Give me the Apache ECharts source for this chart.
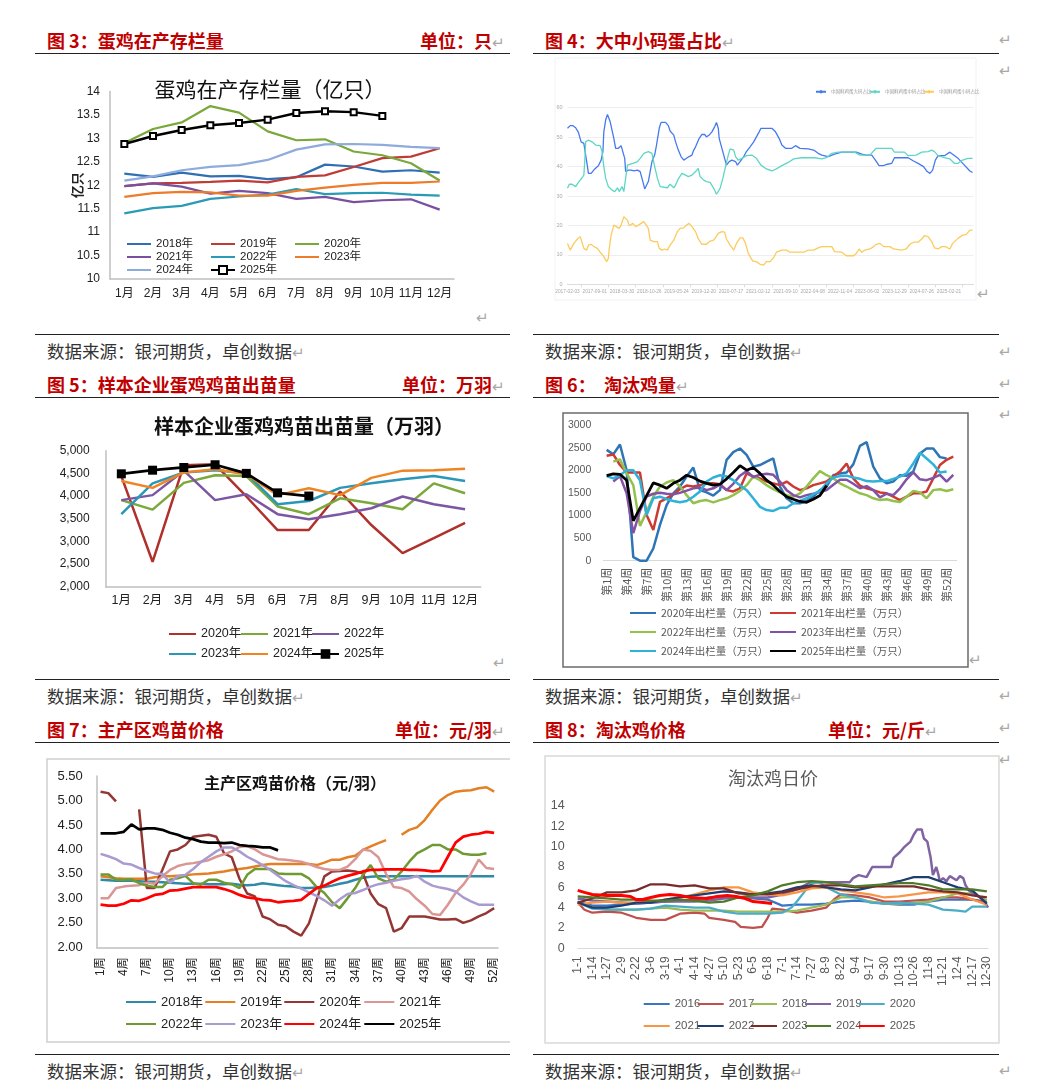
<!DOCTYPE html>
<html><head><meta charset="utf-8">
<script src="https://cdn.jsdelivr.net/npm/echarts@6/dist/echarts.min.js"></script>
<style>
body{margin:0;background:#fff;width:1057px;height:1090px;position:relative;overflow:hidden;font-family:"Noto Sans CJK SC","Noto Sans",sans-serif;}
.h{position:absolute;color:#c00000;font-weight:bold;font-size:18px;line-height:18px;white-space:nowrap;}
.src{position:absolute;color:#333;font-size:17.5px;line-height:18px;white-space:nowrap;}
.rule{position:absolute;height:0;border-top:1.5px solid #222;}
.ret{color:#a8a8a8;font-weight:normal;font-size:15px;}
.rm{position:absolute;color:#a8a8a8;font-size:15px;line-height:16px;}
.c{position:absolute;}
</style></head>
<body>
<!-- headers -->
<div class="h" style="left:47px;top:31px">图 3：蛋鸡在产存栏量</div>
<div class="h" style="right:552px;top:31px">单位：只<span class="ret">↵</span></div>
<div class="h" style="left:545px;top:31px">图 4：大中小码蛋占比<span class="ret">↵</span></div>
<div class="h" style="left:47px;top:375px">图 5：样本企业蛋鸡鸡苗出苗量</div>
<div class="h" style="right:552px;top:375px">单位：万羽<span class="ret">↵</span></div>
<div class="h" style="left:545px;top:375px">图 6：&nbsp;&nbsp;淘汰鸡量<span class="ret">↵</span></div>
<div class="h" style="left:47px;top:720px">图 7：主产区鸡苗价格</div>
<div class="h" style="right:552px;top:720px">单位：元/羽<span class="ret">↵</span></div>
<div class="h" style="left:545px;top:720px">图 8：淘汰鸡价格</div>
<div class="h" style="right:119px;top:720px">单位：元/斤<span class="ret">↵</span></div>

<div class="rule" style="left:35px;top:53px;width:475px"></div>
<div class="rule" style="left:533px;top:53px;width:466px"></div>
<div class="rule" style="left:35px;top:397px;width:475px"></div>
<div class="rule" style="left:533px;top:397px;width:466px"></div>
<div class="rule" style="left:35px;top:742px;width:475px"></div>
<div class="rule" style="left:533px;top:742px;width:466px"></div>

<div class="rule" style="left:35px;top:334px;width:475px"></div>
<div class="rule" style="left:533px;top:334px;width:466px"></div>
<div class="rule" style="left:35px;top:679px;width:475px"></div>
<div class="rule" style="left:533px;top:679px;width:466px"></div>
<div class="rule" style="left:35px;top:1054px;width:475px"></div>
<div class="rule" style="left:533px;top:1054px;width:466px"></div>

<div class="src" style="left:47px;top:342px">数据来源：银河期货，卓创数据<span class="ret">↵</span></div>
<div class="src" style="left:545px;top:342px">数据来源：银河期货，卓创数据<span class="ret">↵</span></div>
<div class="src" style="left:47px;top:687px">数据来源：银河期货，卓创数据<span class="ret">↵</span></div>
<div class="src" style="left:545px;top:687px">数据来源：银河期货，卓创数据<span class="ret">↵</span></div>
<div class="src" style="left:47px;top:1062px">数据来源：银河期货，卓创数据<span class="ret">↵</span></div>
<div class="src" style="left:545px;top:1062px">数据来源：银河期货，卓创数据<span class="ret">↵</span></div>

<div class="rm" style="left:999px;top:31px">↵</div>
<div class="rm" style="left:999px;top:62px">↵</div>
<div class="rm" style="left:476px;top:309px">↵</div>
<div class="rm" style="left:977px;top:285px">↵</div>
<div class="rm" style="left:999px;top:343px">↵</div>
<div class="rm" style="left:999px;top:375px">↵</div>
<div class="rm" style="left:999px;top:406px">↵</div>
<div class="rm" style="left:493px;top:654px">↵</div>
<div class="rm" style="left:969px;top:651px">↵</div>
<div class="rm" style="left:999px;top:687px">↵</div>
<div class="rm" style="left:999px;top:719px">↵</div>
<div class="rm" style="left:999px;top:751px">↵</div>
<div class="rm" style="left:999px;top:1062px">↵</div>

<div id="c3" class="c" style="left:35px;top:57px;width:475px;height:275px"></div>
<div id="c4" class="c" style="left:540px;top:57px;width:455px;height:275px"></div>
<div id="c5" class="c" style="left:35px;top:402px;width:475px;height:275px"></div>
<div id="c6" class="c" style="left:540px;top:402px;width:455px;height:275px"></div>
<div id="c7" class="c" style="left:35px;top:746px;width:475px;height:306px"></div>
<div id="c8" class="c" style="left:540px;top:746px;width:462px;height:306px"></div>

<script>
// ===================== DATA =====================
// Chart 3: 蛋鸡在产存栏量（亿只）
const c3Months = ['1月','2月','3月','4月','5月','6月','7月','8月','9月','10月','11月','12月'];
const c3Y2018 = [12.25,12.18,12.27,12.19,12.20,12.13,12.17,12.44,12.40,12.29,12.32,12.27];
const c3Y2019 = [11.98,12.04,12.05,12.07,12.10,12.06,12.18,12.21,12.39,12.58,12.61,12.79];
const c3Y2020 = [12.90,13.20,13.34,13.69,13.55,13.15,12.96,12.98,12.72,12.64,12.47,12.10];
const c3Y2021 = [11.98,12.04,11.97,11.82,11.88,11.83,11.71,11.75,11.64,11.68,11.70,11.48];
const c3Y2022 = [11.40,11.51,11.56,11.71,11.76,11.80,11.92,11.81,11.83,11.84,11.80,11.78];
const c3Y2023 = [11.75,11.83,11.86,11.85,11.78,11.78,11.88,11.95,12.01,12.05,12.05,12.08];
const c3Y2024 = [12.10,12.19,12.32,12.39,12.43,12.54,12.76,12.87,12.88,12.86,12.82,12.79];
const c3Y2025 = [12.88,13.05,13.18,13.28,13.33,13.40,13.54,13.58,13.56,13.48];

// Chart 4: 大中小码蛋占比 (x = weeks since 2017-02-03)
const c4Start = '2017-02-03';
const c4LabelWeeks = [0,30,60,90,120,150,180,210,240,270,300,330,360,390,420];
const c4Large = [[0,53.0],[3,53.9],[6,53.9],[9,53.2],[12,51.6],[15,48.4],[18,47.9],[20,43.9],[22,40.0],[23,37.7],[26,37.7],[30,39.2],[34,40.3],[37,42.2],[39,45.1],[40,51.8],[42,55.8],[44,57.7],[45,57.3],[47,55.2],[49,52.4],[51,49.6],[53,46.2],[56,46.2],[59,47.1],[61,47.1],[63,42.8],[64,38.3],[67,38.8],[70,38.8],[73,38.5],[77,38.8],[80,38.3],[83,34.9],[85,32.4],[86,32.4],[89,34.9],[90,34.9],[93,41.7],[96,44.0],[98,47.3],[101,53.0],[103,55.0],[108,55.0],[111,53.9],[113,52.1],[117,50.7],[119,48.4],[122,45.6],[125,43.4],[128,42.2],[131,42.8],[134,43.4],[137,43.9],[139,45.6],[141,46.7],[145,49.6],[148,50.9],[151,50.9],[153,50.1],[156,50.7],[159,51.8],[162,53.5],[164,55.0],[166,53.0],[167,49.6],[170,46.2],[173,42.8],[175,40.5],[178,41.7],[181,42.2],[185,41.7],[187,40.5],[190,41.7],[194,43.4],[197,45.1],[201,46.7],[205,48.4],[208,50.1],[211,51.8],[213,53.0],[225,53.0],[229,51.8],[233,49.6],[236,47.3],[240,46.2],[247,46.2],[251,47.1],[256,46.2],[265,46.0],[271,45.6],[276,44.5],[280,43.9],[287,43.4],[294,44.2],[302,44.9],[309,44.9],[318,44.9],[324,44.2],[329,43.9],[335,43.9],[339,42.2],[343,40.3],[348,40.3],[351,40.7],[357,41.1],[360,43.0],[375,43.0],[381,41.9],[386,41.1],[392,40.0],[396,38.3],[399,37.7],[402,38.8],[405,42.2],[408,43.7],[415,43.7],[421,44.9],[424,44.2],[430,42.8],[437,40.5],[443,38.5],[446,38.0]];
const c4Medium = [[0,32.6],[2,34.0],[5,34.0],[7,34.6],[9,33.2],[12,34.6],[14,35.4],[16,36.2],[18,37.1],[19,41.7],[20,48.4],[22,48.4],[23,49.0],[27,48.4],[31,47.3],[36,47.1],[38,45.1],[40,40.0],[42,36.0],[45,33.2],[49,32.0],[52,31.5],[55,32.8],[57,31.5],[60,33.2],[62,31.5],[64,36.0],[66,40.5],[68,40.5],[72,41.1],[77,41.7],[80,42.8],[84,44.5],[89,45.1],[93,44.5],[96,40.0],[99,36.0],[102,33.2],[110,32.8],[113,34.0],[117,32.8],[119,33.7],[122,35.8],[126,37.7],[130,37.1],[133,36.6],[137,37.1],[141,38.3],[144,39.4],[146,36.6],[150,35.4],[153,34.9],[157,34.6],[161,32.6],[164,30.6],[166,30.1],[168,32.6],[171,36.0],[174,40.0],[177,43.9],[179,46.0],[183,45.6],[185,43.4],[188,42.2],[192,42.8],[197,43.7],[203,43.9],[208,42.8],[213,40.5],[219,39.2],[225,38.5],[230,39.2],[236,40.3],[243,41.4],[249,42.6],[258,43.0],[272,43.0],[280,42.6],[285,43.0],[291,44.5],[298,44.9],[316,44.9],[322,43.9],[333,43.9],[337,45.3],[340,46.2],[357,46.2],[360,44.9],[371,44.9],[375,43.7],[384,43.9],[390,44.9],[397,45.1],[401,45.6],[404,45.1],[408,43.7],[415,43.0],[421,42.6],[426,41.1],[430,41.1],[435,42.2],[441,42.8],[446,42.8]];
const c4Small = [[0,13.9],[3,11.6],[5,12.0],[7,13.9],[11,15.4],[14,16.2],[16,16.5],[18,12.2],[21,11.6],[23,13.3],[26,13.6],[29,12.8],[33,12.2],[36,10.9],[40,9.4],[43,7.7],[45,8.8],[46,12.2],[48,16.7],[51,20.1],[53,20.7],[57,19.0],[59,20.1],[62,23.0],[64,23.5],[66,21.8],[68,19.9],[72,20.7],[75,19.6],[78,20.1],[81,20.7],[84,21.3],[86,20.7],[89,19.0],[91,15.0],[95,14.5],[99,14.5],[101,12.2],[104,11.6],[107,12.0],[110,11.6],[113,13.3],[117,15.0],[121,17.9],[124,19.0],[128,19.2],[131,20.1],[134,20.7],[137,19.6],[141,17.9],[144,15.4],[148,13.6],[153,13.6],[157,14.7],[161,15.0],[163,14.5],[166,17.3],[170,17.9],[173,17.7],[175,15.4],[179,13.3],[183,11.6],[186,13.9],[190,15.8],[193,15.8],[196,13.9],[199,10.5],[204,7.9],[208,7.7],[212,6.8],[216,6.5],[219,7.7],[223,7.7],[227,9.0],[230,10.9],[236,11.6],[241,11.6],[245,10.9],[260,10.9],[265,11.6],[271,11.6],[276,12.4],[280,12.8],[291,12.8],[294,11.1],[302,10.9],[307,9.7],[315,9.7],[318,10.5],[321,12.0],[324,10.9],[327,11.6],[333,12.0],[337,12.8],[340,13.6],[344,13.9],[348,12.8],[355,12.8],[359,12.0],[368,11.6],[373,12.0],[377,13.6],[381,14.3],[386,14.3],[390,15.4],[393,16.5],[397,16.2],[401,14.5],[404,12.4],[408,12.0],[412,12.8],[416,12.8],[421,12.0],[424,13.9],[430,15.6],[435,16.7],[439,16.9],[443,18.4],[446,18.4]];

// Chart 5: 样本企业蛋鸡鸡苗出苗量（万羽）
const c5Months = ['1月','2月','3月','4月','5月','6月','7月','8月','9月','10月','11月','12月'];
const c5Y2020 = [4440,2550,4680,4700,3990,3250,3250,4100,3360,2740,3070,3410];
const c5Y2021 = [3910,3700,4290,4460,4440,3770,3600,3950,3840,3710,4280,4060];
const c5Y2022 = [3910,4020,4560,3910,4040,3600,3490,3600,3730,3990,3820,3710];
const c5Y2023 = [3600,4280,4520,4570,4500,3820,3890,4180,4280,4370,4440,4330];
const c5Y2024 = [4330,4180,4520,4590,4480,4020,4170,4020,4400,4560,4570,4600];
const c5Y2025 = [4490,4570,4630,4690,4500,4070,4000];

// Chart 6: 淘汰鸡量（万只）, 第1周..第53周
const c6Weeks = Array.from({length:53}, (_, i) => '第' + (i + 1) + '周');
const c6Y2020 = [2450,2350,2570,2000,80,0,0,270,790,1230,1490,1640,1860,2060,1560,1510,1440,1560,2230,2400,2480,2340,2080,2115,2190,2260,1640,1380,1270,1270,1320,1415,1560,1640,1890,1930,1950,2130,2540,2620,2080,1820,1710,1750,1890,1880,1970,2370,2480,2480,2290,2260,null];
const c6Y2021 = [2320,2350,2115,1950,1950,1950,1010,680,1300,1380,1470,1580,1660,1640,1670,1710,1710,1690,1560,1530,1600,1930,1860,1820,1750,1710,1670,1750,1640,1560,1600,1670,1710,1750,1860,1970,2150,1820,1660,1600,1560,1510,1490,1415,1340,1415,1490,1490,1530,1820,2115,2230,2300];
const c6Y2022 = [null,2190,2240,1930,1670,770,1080,1415,1640,1730,1780,1640,1450,1270,1320,1340,1290,1340,1380,1450,1540,1670,1860,1780,1670,1580,1510,1450,1415,1490,1640,1820,1980,1890,1820,1710,1640,1560,1490,1450,1380,1340,1360,1320,1300,1415,1540,1510,1380,1560,1580,1540,1580];
const c6Y2023 = [null,1750,1870,1490,610,1100,1420,1480,1500,1480,1470,1500,1550,1600,1620,1560,1600,1680,1560,1700,1880,1980,1850,1900,1920,1900,1750,1560,1450,1400,1450,1480,1520,1560,1680,1790,1790,1700,1600,1650,1560,1400,1480,1450,1600,1800,1950,1800,1780,1830,1900,1750,1900];
const c6Y2024 = [1870,1820,1890,2000,2000,1780,1010,1380,1415,1360,1320,1290,1320,1415,1530,1750,1840,1890,1860,1780,1670,1560,1380,1190,1120,1100,1170,1170,1270,1320,1380,1470,1540,1710,1840,1870,1880,1840,1810,1760,1750,1760,1760,1810,1860,1930,2150,2390,2260,2130,1950,1970,null];
const c6Y2025 = [1880,1920,1910,1780,880,1160,1440,1720,1670,1600,1710,1780,1890,1840,1760,1710,1670,1690,1810,1950,2100,2000,2060,1930,1780,1670,1530,1415,1360,1310,1290,1360,1440,1660];

// Chart 7: 主产区鸡苗价格（元/羽）, 1周..52周
const c7Weeks = Array.from({length:52}, (_, i) => (i + 1) + '周');
const c7Y2018 = [3.38,3.37,3.36,3.36,3.36,3.35,3.34,3.34,3.33,3.32,3.31,3.30,3.30,3.30,3.29,3.29,3.29,3.30,3.28,3.27,3.28,3.31,3.29,3.27,3.25,3.24,3.21,3.21,3.22,3.23,3.26,3.30,3.33,3.38,3.42,3.44,3.45,3.45,3.45,3.45,3.45,3.45,3.45,3.45,3.45,3.45,3.45,3.45,3.45,3.45,3.45,3.45];
const c7Y2019 = [3.45,3.43,3.41,3.40,3.40,3.40,3.40,3.43,3.45,3.45,3.46,3.47,3.49,3.50,3.51,3.53,3.55,3.58,3.60,3.62,3.65,3.68,3.70,3.70,3.70,3.70,3.70,3.70,3.68,3.73,3.79,3.79,3.84,3.87,3.99,4.06,4.13,4.19,null,4.30,4.40,4.45,4.60,4.81,5.00,5.11,5.18,5.20,5.21,5.25,5.27,5.18];
const c7Y2020 = [5.18,5.15,4.98,null,null,4.82,3.21,3.21,3.58,3.96,4.00,4.09,4.26,4.28,4.30,4.26,3.92,3.84,3.40,3.10,3.04,2.63,2.57,2.46,2.43,2.32,2.24,2.49,2.97,3.45,3.55,3.56,3.57,3.55,3.51,3.10,2.88,2.80,2.32,2.39,2.63,2.63,2.63,2.60,2.57,2.57,2.58,2.50,2.55,2.63,2.70,2.80];
const c7Y2021 = [3.00,3.00,3.21,3.24,3.26,3.27,3.32,3.30,3.45,3.58,3.66,3.70,3.72,3.75,3.78,3.85,3.90,3.96,4.05,4.07,4.00,3.90,3.85,3.80,3.79,3.77,3.75,3.70,3.64,3.60,3.58,3.58,3.65,3.80,4.00,3.97,3.84,3.50,3.23,3.21,3.14,2.98,2.85,2.68,2.66,2.87,3.11,3.28,3.50,3.79,3.62,3.60];
const c7Y2022 = [3.49,3.49,3.38,3.38,3.39,3.31,3.26,3.23,3.23,3.38,3.41,3.46,3.31,3.28,3.38,3.38,3.32,3.29,3.21,3.48,3.60,3.60,3.60,3.51,3.50,3.50,3.50,3.41,3.23,3.11,2.92,2.80,3.00,3.21,3.48,3.68,3.41,3.34,3.38,3.55,3.75,3.92,4.00,4.09,4.09,4.00,4.00,3.91,3.89,3.89,3.92,null];
const c7Y2023 = [3.91,3.86,3.80,3.71,3.69,3.62,3.56,3.51,3.50,3.32,3.45,3.48,3.60,3.74,3.85,3.96,4.04,4.04,3.96,3.85,3.77,3.68,3.58,3.46,3.35,3.27,3.20,3.12,3.05,2.96,2.85,2.98,3.09,3.11,3.17,3.24,3.29,3.32,3.36,3.39,3.41,3.46,3.34,3.26,3.22,3.19,3.14,3.02,2.94,2.87,2.87,2.87];
const c7Y2024 = [2.87,2.85,2.85,2.89,2.96,2.95,3.00,3.07,3.09,3.16,3.17,3.20,3.23,3.23,3.23,3.23,3.19,3.14,3.07,3.02,3.00,2.97,2.96,2.92,2.94,2.95,2.97,3.09,3.21,3.26,3.34,3.41,3.46,3.50,3.55,3.58,3.58,3.59,3.59,3.59,3.58,3.58,3.57,3.55,3.56,3.85,4.14,4.26,4.30,4.32,4.36,4.34];
const c7Y2025 = [4.33,4.33,4.33,4.36,4.51,4.41,4.43,4.43,4.40,4.34,4.30,4.24,4.21,4.16,4.14,4.14,4.13,4.14,4.09,4.07,4.06,4.04,4.04,3.98];

// Chart 8: 淘汰鸡日价 (x = day of year, 0 = 1-1)
const c8LabelDays = [0,13,26,39,52,65,78,91,104,117,130,143,156,169,182,195,208,221,234,247,260,273,286,299,312,325,338,351,364];
const c8Y2016 = [[0,4.6],[13,4.2],[26,4.2],[39,4.3],[52,4.4],[65,4.5],[78,4.6],[91,4.7],[104,4.8],[117,5.0],[130,5.0],[143,5.0],[156,4.9],[169,4.8],[182,4.2],[195,4.3],[208,4.3],[221,4.4],[234,4.6],[247,4.7],[260,4.6],[273,4.4],[286,4.3],[299,4.3],[312,4.6],[325,4.8],[338,4.8],[351,4.8],[364,4.6]];
const c8Y2017 = [[0,4.5],[6,3.8],[13,3.5],[26,3.6],[39,3.5],[47,3.2],[52,3.0],[65,2.8],[78,2.8],[91,3.4],[104,3.5],[113,3.4],[117,3.0],[130,2.8],[140,2.6],[145,2.1],[156,2.0],[164,2.1],[169,3.0],[173,3.9],[182,3.8],[195,3.5],[208,3.7],[221,4.0],[228,4.8],[234,5.3],[247,5.2],[260,5.0],[273,4.6],[286,4.6],[299,4.7],[312,4.8],[325,5.0],[338,5.0],[351,4.8],[364,4.5]];
const c8Y2018 = [[0,4.5],[13,4.0],[26,3.8],[39,3.8],[52,3.8],[65,3.9],[78,4.0],[91,3.8],[104,3.7],[117,3.7],[130,3.7],[143,3.6],[156,3.6],[169,3.6],[182,3.6],[195,3.7],[208,4.0],[221,4.3],[234,5.0],[247,5.0],[260,4.6],[273,4.4],[286,4.4],[299,4.5],[312,4.6],[325,5.0],[338,5.4],[351,5.4],[364,4.7]];
const c8Y2019 = [[0,4.9],[13,4.7],[26,4.6],[39,4.5],[52,4.4],[65,4.5],[78,4.6],[91,4.6],[104,4.6],[117,4.7],[130,4.9],[143,5.0],[156,5.0],[169,5.0],[182,5.3],[195,5.8],[207,6.5],[222,6.5],[242,6.5],[245,6.9],[250,7.2],[257,7.0],[262,8.0],[279,8.0],[281,8.9],[287,9.5],[290,9.9],[296,10.5],[299,11.2],[302,11.7],[306,11.7],[308,10.8],[311,10.5],[314,8.9],[316,7.2],[319,8.0],[321,7.2],[322,6.6],[325,6.9],[328,6.6],[331,7.1],[337,6.7],[340,7.1],[343,6.9],[345,6.2],[348,5.7],[352,5.4],[358,5.0],[362,4.6],[365,4.0]];
const c8Y2020 = [[0,4.5],[13,3.9],[26,3.8],[39,3.8],[52,3.8],[65,3.9],[78,4.2],[91,4.1],[104,4.0],[117,4.0],[130,3.6],[143,3.4],[156,3.4],[169,3.4],[182,3.5],[190,4.0],[195,4.6],[202,5.6],[208,6.4],[215,6.5],[221,6.0],[234,5.3],[247,5.0],[260,4.5],[273,4.4],[286,4.5],[299,4.4],[312,4.3],[325,3.8],[338,3.7],[345,3.6],[351,4.1],[364,4.1]];
const c8Y2021 = [[0,4.3],[13,4.5],[26,4.6],[39,4.5],[52,4.5],[65,4.6],[78,4.8],[91,5.0],[104,5.3],[117,5.7],[130,6.0],[143,6.0],[156,5.5],[169,5.3],[182,5.2],[195,5.5],[208,5.9],[221,6.0],[234,5.7],[247,5.5],[260,5.3],[273,5.0],[286,5.1],[299,5.3],[312,5.5],[325,5.5],[338,5.4],[351,4.8],[364,4.3]];
const c8Y2022 = [[0,4.5],[13,4.0],[26,4.0],[39,4.2],[52,4.5],[65,4.5],[78,4.8],[91,5.0],[104,5.2],[117,5.4],[130,5.6],[143,5.5],[156,5.3],[169,5.4],[182,5.6],[195,6.0],[208,6.2],[221,6.0],[234,5.8],[247,5.7],[260,6.0],[273,6.3],[286,6.6],[299,7.0],[312,7.0],[325,6.5],[338,6.0],[351,5.7],[358,5.0],[364,4.4]];
const c8Y2023 = [[0,4.5],[13,4.9],[26,5.5],[39,5.5],[52,5.7],[65,6.3],[78,6.3],[91,6.1],[104,6.2],[117,5.9],[130,5.9],[143,5.4],[156,5.3],[169,5.3],[182,5.5],[195,5.8],[208,6.1],[221,6.2],[234,6.2],[247,6.0],[260,6.1],[273,6.1],[286,6.1],[299,6.1],[312,5.8],[325,5.6],[338,5.5],[351,5.2],[364,5.0]];
const c8Y2024 = [[0,5.1],[13,5.0],[26,4.9],[39,4.8],[52,4.8],[65,4.7],[78,4.7],[91,4.8],[104,4.7],[117,4.5],[130,4.6],[143,5.0],[156,5.2],[169,5.6],[182,6.2],[195,6.5],[208,6.6],[221,6.5],[234,6.3],[247,6.1],[260,6.2],[273,6.3],[286,6.4],[299,6.4],[312,6.2],[325,5.8],[338,5.8],[351,5.8],[364,5.6]];
const c8Y2025 = [[0,5.7],[6,5.5],[13,5.3],[26,5.2],[39,5.2],[47,5.1],[52,4.8],[58,4.8],[65,5.0],[73,5.2],[82,5.3],[91,5.2],[100,5.0],[115,4.9],[124,5.1],[133,5.2],[141,5.1],[149,4.9],[156,4.6],[165,4.5],[173,4.4]];

// ===================== HELPERS =====================
const F = '"Noto Sans CJK SC","Noto Sans",sans-serif';
const FN = '"Liberation Sans","Noto Sans CJK SC",sans-serif';

function ln(name, data, color, width, extra) {
  return Object.assign({
    type: 'line', name: name, data: data, symbol: 'none', showSymbol: false,
    lineStyle: { color: color, width: width }, itemStyle: { color: color },
    emphasis: { disabled: true }, silent: true, z: 2
  }, extra || {});
}
function lg(name, left, cy, o) {
  const h = o.h || 10;
  const f = o.f;
  return {
    data: [name], left: left, top: cy - Math.max(h, f) / 2, padding: 0,
    itemWidth: o.w, itemHeight: h, itemGap: 0, selectedMode: false,
    textStyle: { fontSize: f, color: o.c || '#222', fontFamily: o.ff || FN },
    itemStyle: o.mark ? {} : { opacity: 0 }
  };
}
function txt(text, x, y, font, fill) {
  return { type: 'text', x: x, y: y, silent: true,
    style: { text: text, font: font, fill: fill, textAlign: 'center', textVerticalAlign: 'middle' } };
}
function box(x, y, w, h, stroke, lw) {
  return { type: 'rect', shape: { x: x, y: y, width: w, height: h }, silent: true,
    style: { fill: 'none', stroke: stroke, lineWidth: lw } };
}

// ===================== CHART 3 =====================
(function () {
  const ch = echarts.init(document.getElementById('c3'));
  const o = { f: 11.5, w: 24, c: '#222' };
  ch.setOption({
    animation: false,
    textStyle: { fontFamily: F },
    grid: { left: 75, top: 34.5, width: 344, height: 187.5 },
    xAxis: { type: 'category', data: c3Months, boundaryGap: true,
      axisLine: { lineStyle: { color: '#bfbfbf', width: 1.5 } }, axisTick: { show: false },
      axisLabel: { color: '#222', fontSize: 12, margin: 9, interval: 0, fontFamily: FN } },
    yAxis: { type: 'value', min: 10, max: 14, interval: 0.5,
      name: '亿只', nameLocation: 'middle', nameRotate: 90, nameGap: 26, nameMoveOverlap: false,
      nameTextStyle: { fontSize: 13, fontWeight: 'bold', color: '#222', fontFamily: F },
      axisLine: { show: true, lineStyle: { color: '#bfbfbf', width: 1.5 } }, axisTick: { show: false },
      splitLine: { show: false }, axisLabel: { color: '#222', fontSize: 12, margin: 10, fontFamily: FN } },
    legend: [
      lg('2018年', 91, 187, o), lg('2019年', 175, 187, o), lg('2020年', 259, 187, o),
      lg('2021年', 91, 200, o), lg('2022年', 175, 200, o), lg('2023年', 259, 200, o),
      lg('2024年', 91, 213, o), lg('2025年', 175, 213, Object.assign({ mark: true }, o))
    ],
    graphic: [txt('蛋鸡在产存栏量（亿只）', 235, 32, '21px ' + F, '#111')],
    series: [
      ln('2018年', c3Y2018, '#2f6fb4', 2.25),
      ln('2019年', c3Y2019, '#be3b36', 2.25),
      ln('2020年', c3Y2020, '#7aa83a', 2.25),
      ln('2021年', c3Y2021, '#7a4fa0', 2.25),
      ln('2022年', c3Y2022, '#2a9ab5', 2.25),
      ln('2023年', c3Y2023, '#ee7b2a', 2.25),
      ln('2024年', c3Y2024, '#8eabdc', 2.25),
      ln('2025年', c3Y2025, '#000', 2.5, { symbol: 'rect', showSymbol: true, symbolSize: 6,
        itemStyle: { color: '#fff', borderColor: '#000', borderWidth: 2 }, z: 3 })
    ]
  });
})();

// ===================== CHART 4 =====================
(function () {
  const ch = echarts.init(document.getElementById('c4'));
  const t0 = Date.parse(c4Start + 'T00:00:00Z');
  function wk(w) {
    const d = new Date(t0 + w * 7 * 86400000);
    const p = n => (n < 10 ? '0' : '') + n;
    return d.getUTCFullYear() + '-' + p(d.getUTCMonth() + 1) + '-' + p(d.getUTCDate());
  }
  const lgo = { f: 4.5, w: 10, h: 5, c: '#9a9a9a', ff: F, mark: true };
  ch.setOption({
    animation: false,
    textStyle: { fontFamily: F },
    grid: { left: 27.5, top: 50.7, width: 406, height: 176.6 },
    xAxis: { type: 'value', min: 0, max: 447, splitLine: { show: false },
      axisLine: { lineStyle: { color: '#dcdcdc' } },
      axisTick: { show: true, length: 3, lineStyle: { color: '#dcdcdc' }, customValues: c4LabelWeeks.map(w => w + 15) },
      axisLabel: { customValues: c4LabelWeeks, formatter: v => wk(v), fontSize: 4.8, color: '#aaa', margin: 5,
        fontFamily: FN, showMinLabel: true, showMaxLabel: true, hideOverlap: false } },
    yAxis: { type: 'value', min: 0, max: 60, interval: 10,
      axisLine: { show: false }, axisTick: { show: false },
      splitLine: { lineStyle: { color: '#eeeeee', width: 1 } },
      axisLabel: { fontSize: 5.5, color: '#aaa', margin: 5, fontFamily: FN } },
    legend: [
      lg('中国鲜鸡蛋大码占比', 275, 35, lgo),
      lg('中国鲜鸡蛋中码占比', 329, 35, lgo),
      lg('中国鲜鸡蛋小码占比', 383, 35, lgo)
    ],
    graphic: [box(15, 1, 421, 242, '#eef2f8', 1)],
    series: [
      ln('中国鲜鸡蛋大码占比', c4Large, '#4679ee', 1.3, { symbol: 'diamond' }),
      ln('中国鲜鸡蛋中码占比', c4Medium, '#5ed6c4', 1.3, { symbol: 'diamond' }),
      ln('中国鲜鸡蛋小码占比', c4Small, '#fccb5e', 1.3, { symbol: 'diamond' })
    ]
  });
})();

// ===================== CHART 5 =====================
(function () {
  const ch = echarts.init(document.getElementById('c5'));
  const o = { f: 12.5, w: 27, c: '#222' };
  ch.setOption({
    animation: false,
    textStyle: { fontFamily: F },
    grid: { left: 70.7, top: 48.7, width: 375, height: 136 },
    xAxis: { type: 'category', data: c5Months, boundaryGap: true,
      axisLine: { lineStyle: { color: '#bfbfbf', width: 1.5 } }, axisTick: { show: false },
      axisLabel: { color: '#222', fontSize: 12.5, margin: 8, interval: 0, fontFamily: FN } },
    yAxis: { type: 'value', min: 2000, max: 5000, interval: 500,
      axisLine: { show: true, lineStyle: { color: '#bfbfbf', width: 1.5 } }, axisTick: { show: false },
      splitLine: { show: false },
      axisLabel: { color: '#222', fontSize: 12, margin: 16, fontFamily: FN, formatter: v => v.toLocaleString('en-US') } },
    legend: [
      lg('2020年', 133, 232, o), lg('2021年', 205, 232, o), lg('2022年', 276, 232, o),
      lg('2023年', 133, 252, o), lg('2024年', 205, 252, o),
      lg('2025年', 276, 252, Object.assign({ mark: true, h: 12 }, o))
    ],
    graphic: [txt('样本企业蛋鸡鸡苗出苗量（万羽）', 269, 24, 'bold 20px ' + F, '#111')],
    series: [
      ln('2020年', c5Y2020, '#b0302b', 2.5),
      ln('2021年', c5Y2021, '#7aa83a', 2.5),
      ln('2022年', c5Y2022, '#7d56a3', 2.5),
      ln('2023年', c5Y2023, '#2b97b8', 2.5),
      ln('2024年', c5Y2024, '#ef8424', 2.5),
      ln('2025年', c5Y2025, '#000', 2.75, { symbol: 'rect', showSymbol: true, symbolSize: 9,
        itemStyle: { color: '#000' }, z: 3 })
    ]
  });
})();

// ===================== CHART 6 =====================
(function () {
  const ch = echarts.init(document.getElementById('c6'));
  const o = { f: 10.5, w: 26, c: '#595959', ff: F };
  ch.setOption({
    animation: false,
    textStyle: { fontFamily: F },
    grid: { left: 63.3, top: 23, width: 353.3, height: 135.7 },
    xAxis: { type: 'category', data: c6Weeks, boundaryGap: true,
      axisLine: { lineStyle: { color: '#d9d9d9', width: 1 } }, axisTick: { show: false },
      axisLabel: { color: '#595959', fontSize: 11, margin: 7, interval: 2, rotate: 90, fontFamily: F } },
    yAxis: { type: 'value', min: 0, max: 3000, interval: 500,
      axisLine: { show: false }, axisTick: { show: false }, splitLine: { show: false },
      axisLabel: { color: '#595959', fontSize: 10.5, margin: 12, fontFamily: FN, formatter: v => String(v) } },
    legend: [
      lg('2020年出栏量（万只）', 89, 211, o), lg('2021年出栏量（万只）', 229, 211, o),
      lg('2022年出栏量（万只）', 89, 230, o), lg('2023年出栏量（万只）', 229, 230, o),
      lg('2024年出栏量（万只）', 89, 249, o), lg('2025年出栏量（万只）', 229, 249, o)
    ],
    graphic: [box(23, 11, 405, 254, '#6b6b6b', 1.5)],
    series: [
      ln('2020年出栏量（万只）', c6Y2020, '#2e75b6', 2.5),
      ln('2021年出栏量（万只）', c6Y2021, '#cc3a33', 2.5),
      ln('2022年出栏量（万只）', c6Y2022, '#94c04c', 2.5),
      ln('2023年出栏量（万只）', c6Y2023, '#8152a6', 2.5),
      ln('2024年出栏量（万只）', c6Y2024, '#2fb1d8', 2.5),
      ln('2025年出栏量（万只）', c6Y2025, '#000', 2.75, { z: 3 })
    ]
  });
})();

// ===================== CHART 7 =====================
(function () {
  const ch = echarts.init(document.getElementById('c7'));
  const o = { f: 13, w: 30, c: '#222' };
  ch.setOption({
    animation: false,
    textStyle: { fontFamily: F },
    grid: { left: 61.7, top: 30, width: 401.3, height: 171.3 },
    xAxis: { type: 'category', data: c7Weeks, boundaryGap: true,
      axisLine: { lineStyle: { color: '#bfbfbf', width: 1.5 } }, axisTick: { show: false },
      axisLabel: { color: '#222', fontSize: 12, margin: 10, interval: 2, rotate: 90, fontFamily: FN } },
    yAxis: { type: 'value', min: 2, max: 5.5, interval: 0.5,
      axisLine: { show: true, lineStyle: { color: '#bfbfbf', width: 1.5 } }, axisTick: { show: false },
      splitLine: { show: false },
      axisLabel: { color: '#222', fontSize: 13, margin: 14, fontFamily: FN, formatter: v => v.toFixed(2) } },
    legend: [
      lg('2018年', 90, 256, o), lg('2019年', 169.3, 256, o), lg('2020年', 248.3, 256, o), lg('2021年', 328.3, 256, o),
      lg('2022年', 90, 278, o), lg('2023年', 169.3, 278, o), lg('2024年', 248.3, 278, o), lg('2025年', 328.3, 278, o)
    ],
    graphic: [
      box(12, 13, 464, 283, '#d0d0d0', 1.5),
      txt('主产区鸡苗价格（元/羽）', 260, 37, 'bold 16px ' + F, '#111')
    ],
    series: [
      ln('2018年', c7Y2018, '#2e8aa6', 2.5),
      ln('2019年', c7Y2019, '#e47f23', 2.5),
      ln('2020年', c7Y2020, '#943634', 2.5),
      ln('2021年', c7Y2021, '#d99694', 2.5),
      ln('2022年', c7Y2022, '#6f9a32', 2.5),
      ln('2023年', c7Y2023, '#a99bd0', 2.5),
      ln('2024年', c7Y2024, '#ff0000', 2.75),
      ln('2025年', c7Y2025, '#000', 2.75, { z: 3 })
    ]
  });
})();

// ===================== CHART 8 =====================
(function () {
  const ch = echarts.init(document.getElementById('c8'));
  function md(d) {
    const dt = new Date(Date.UTC(2024, 0, 1 + d));
    return (dt.getUTCMonth() + 1) + '-' + dt.getUTCDate();
  }
  const o = { f: 11.5, w: 26, c: '#595959' };
  ch.setOption({
    animation: false,
    textStyle: { fontFamily: F },
    grid: { left: 37.7, top: 60, width: 410.3, height: 142.3 },
    xAxis: { type: 'value', min: 0, max: 365, splitLine: { show: false },
      axisLine: { lineStyle: { color: '#d9d9d9', width: 1 } }, axisTick: { show: false },
      axisLabel: { customValues: c8LabelDays, formatter: v => md(v), color: '#595959', fontSize: 12, margin: 8, rotate: 90,
        fontFamily: FN, showMinLabel: true, hideOverlap: false } },
    yAxis: { type: 'value', min: 0, max: 14, interval: 2,
      axisLine: { show: false }, axisTick: { show: false }, splitLine: { show: false },
      axisLabel: { color: '#595959', fontSize: 12.5, margin: 13, fontFamily: FN } },
    legend: [
      lg('2016', 102.7, 258, o), lg('2017', 156.7, 258, o), lg('2018', 210, 258, o), lg('2019', 264, 258, o), lg('2020', 317.7, 258, o),
      lg('2021', 102.7, 280, o), lg('2022', 156.7, 280, o), lg('2023', 210, 280, o), lg('2024', 264, 280, o), lg('2025', 317.7, 280, o)
    ],
    graphic: [
      box(5, 10, 454, 287, '#d9d9d9', 1.5),
      txt('淘汰鸡日价', 233, 32, '18px ' + F, '#595959')
    ],
    series: [
      ln('2016', c8Y2016, '#3a75c4', 2.25),
      ln('2017', c8Y2017, '#c0504d', 2.25),
      ln('2018', c8Y2018, '#9bbb59', 2.25),
      ln('2019', c8Y2019, '#8064a2', 2.5),
      ln('2020', c8Y2020, '#4bacc6', 2.25),
      ln('2021', c8Y2021, '#f79646', 2.25),
      ln('2022', c8Y2022, '#1f3d6e', 2.25),
      ln('2023', c8Y2023, '#772c2a', 2.25),
      ln('2024', c8Y2024, '#4f7a28', 2.25),
      ln('2025', c8Y2025, '#ff0000', 3, { z: 3 })
    ]
  });
})();
</script>
</body></html>
